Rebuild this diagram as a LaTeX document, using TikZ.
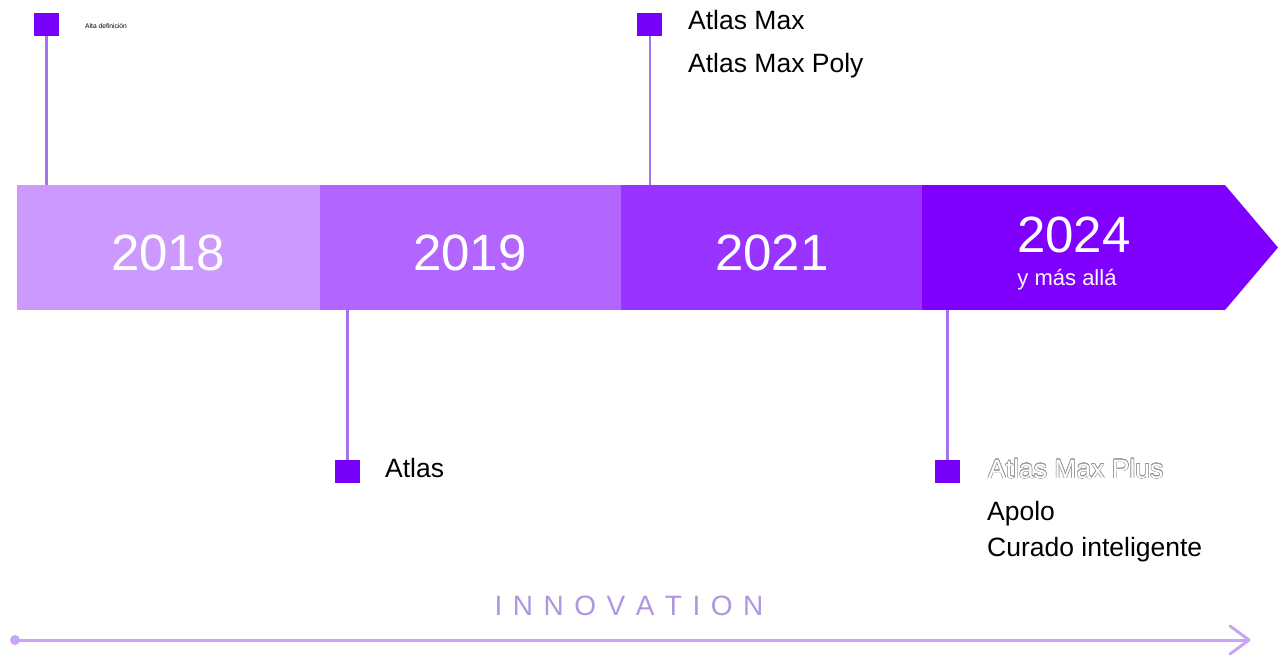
\documentclass[tikz,border=0pt]{standalone}
\usepackage{fontspec}
\setmainfont{Liberation Sans}
\usepackage{contour}
\contourlength{0.5pt}
\contournumber{16}
\definecolor{cA}{RGB}{204,153,255}
\definecolor{cB}{RGB}{178,102,255}
\definecolor{cC}{RGB}{153,51,255}
\definecolor{cD}{RGB}{127,0,255}
\definecolor{sq}{RGB}{118,0,250}
\definecolor{stem}{RGB}{165,115,235}
\definecolor{inno}{RGB}{175,150,222}
\definecolor{axisc}{RGB}{200,165,245}
\definecolor{outl}{RGB}{150,150,150}
\tikzset{
 seg/.style={rectangle, minimum width=301pt, minimum height=125pt, inner sep=0, outer sep=0},
 yr/.style={text=white, font=\fontsize{51}{60}\selectfont, anchor=base, inner sep=0},
 mk/.style={rectangle, fill=sq, minimum width=25pt, minimum height=23pt, inner sep=0, outer sep=0},
 stemline/.style={draw=stem, line width=2.5pt},
 lbl/.style={anchor=base west, inner sep=0, font=\fontsize{26.5}{30}\selectfont, text=black},
}
\begin{document}
\begin{tikzpicture}[x=1pt,y=-1pt]
\useasboundingbox (0,0) rectangle (1278,659);
% band
\node[seg, fill=cA, minimum width=303pt] (b18) at (168.5,247.5) {};
\node[seg, fill=cB] (b19) at (470.5,247.5) {};
\node[seg, fill=cC] (b21) at (771.5,247.5) {};
\node[seg, fill=cD, minimum width=303pt] (b24) at (1073.5,247.5) {};
\fill[cD] (b24.north east) -- (1278,247.5) -- (b24.south east) -- cycle;
% years
\node[yr] (t18) at (168,270) {2018};
\node[yr] (t19) at (470,270) {2019};
\node[yr] (t21) at (772,270) {2021};
\node[yr] (t24) at (1074,252) {2024};
\node[yr, font=\fontsize{22}{26}\selectfont] (t24b) at (1067,285) {y más allá};
% markers
\node[mk] (m18) at (46.5,24.5) {};
\node[mk] (m21) at (649.5,24.5) {};
\node[mk] (m19) at (347.5,471.5) {};
\node[mk] (m24) at (947.5,471.5) {};
\draw[stemline] (m18.south) -- (m18.south |- b18.north);
\draw[stemline, line width=2pt] (m21.south) -- (m21.south |- b21.north);
\draw[stemline] (m19.north) -- (m19.north |- b19.south);
\draw[stemline] (m24.north) -- (m24.north |- b24.south);
% labels
\node[lbl, font=\fontsize{6.7}{8}\selectfont] (l18) at (85,28) {Alta definición};
\node[lbl] (l21a) at (688,29) {Atlas Max};
\node[lbl] (l21b) at (688,72) {Atlas Max Poly};
\node[lbl] (l19) at (385,477) {Atlas};
\node[lbl] (l24a) at (988,478) {\contour{outl}{\color{white}Atlas Max Plus}};
\node[lbl] (l24b) at (987,520) {Apolo};
\node[lbl] (l24c) at (987,556) {Curado inteligente};
% innovation
\node[text=inno, inner sep=0, font=\fontsize{28}{32}\selectfont] (inn) at (629,606)
 {I\hspace{10.5pt}N\hspace{10.5pt}N\hspace{10.5pt}O\hspace{10.5pt}V\hspace{10.5pt}A\hspace{10.5pt}T\hspace{10.5pt}I\hspace{10.5pt}O\hspace{10.5pt}N};
% axis
\node[circle, fill=axisc, minimum size=10pt, inner sep=0] (a0) at (15,640) {};
\coordinate (a1) at (1249,640);
\draw[axisc, line width=3pt] (a0.center) -- (a1);
\draw[axisc, line width=3pt, line cap=round, line join=round] ([xshift=-19pt,yshift=-14pt]a1) -- (a1) -- ([xshift=-19pt,yshift=14pt]a1);
\end{tikzpicture}
\end{document}
